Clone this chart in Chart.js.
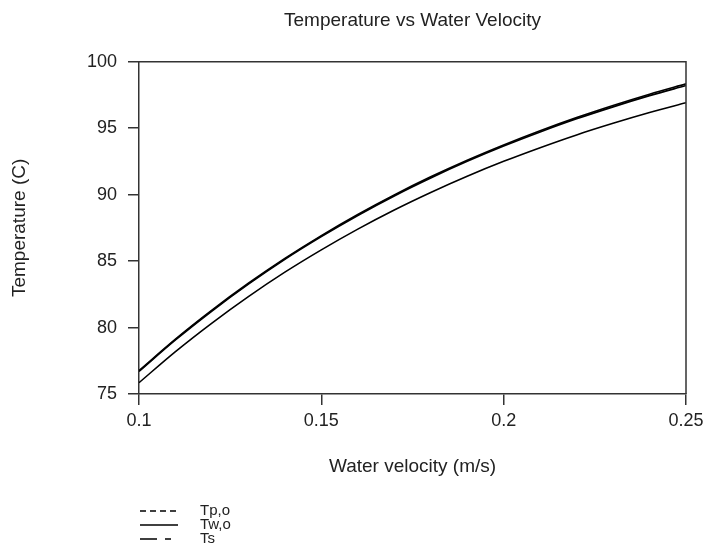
<!DOCTYPE html>
<html>
<head>
<meta charset="utf-8">
<script src="https://cdn.jsdelivr.net/npm/chart.js@4.4.1/dist/chart.umd.min.js"></script>
<style>
  html, body { margin: 0; padding: 0; background: #fff; }
  canvas { display: block; }
</style>
</head>
<body>
<canvas id="tempChart" width="704" height="559"></canvas>
<script>
// values
const velocity = [0.10, 0.11, 0.12, 0.13, 0.14, 0.15, 0.16, 0.17, 0.18, 0.19, 0.20, 0.21, 0.22, 0.23, 0.24, 0.25];
const tpo = [76.70, 79.07, 81.25, 83.27, 85.14, 86.85, 88.44, 89.91, 91.26, 92.51, 93.66, 94.72, 95.71, 96.61, 97.45, 98.22];
const two = [75.85, 78.19, 80.34, 82.33, 84.17, 85.85, 87.41, 88.85, 90.17, 91.39, 92.51, 93.54, 94.50, 95.37, 96.18, 96.92];
const ts  = [76.76, 79.13, 81.31, 83.33, 85.20, 86.92, 88.51, 89.98, 91.34, 92.59, 93.74, 94.81, 95.80, 96.71, 97.56, 98.34];

const seriesNames = ["Tp,o", "Tw,o", "Ts"];
const legendDash = [[6, 4], [], [17, 8, 6, 8]];

const xTicks = [0.1, 0.15, 0.2, 0.25];
const yTicks = [75, 80, 85, 90, 95, 100];

const FONT = "'Liberation Sans', Arial, sans-serif";
const ink = "#222";

const toPoints = ys => velocity.map((v, i) => ({ x: v, y: ys[i] }));

// frame on top/right and the small legend under the axis
const extras = {
  id: "extras",
  afterDatasetsDraw(chart) {
    const { ctx, chartArea: a } = chart;
    ctx.save();
    ctx.strokeStyle = "#333";
    ctx.lineWidth = 1.5;
    ctx.beginPath();
    ctx.moveTo(a.left, a.top);
    ctx.lineTo(a.right, a.top);
    ctx.lineTo(a.right, a.bottom);
    ctx.stroke();
    ctx.restore();
  },
  afterDraw(chart) {
    const ctx = chart.ctx;
    const rows = [511, 525, 539];
    ctx.save();
    ctx.font = "15px " + FONT;
    ctx.textBaseline = "middle";
    ctx.fillStyle = ink;
    seriesNames.forEach((name, i) => {
      ctx.strokeStyle = "#000";
      ctx.lineWidth = 1.3;
      ctx.setLineDash(legendDash[i]);
      ctx.beginPath();
      ctx.moveTo(140, rows[i]);
      ctx.lineTo(178, rows[i]);
      ctx.stroke();
      ctx.setLineDash([]);
      ctx.fillText(name, 200, rows[i]);
    });
    ctx.restore();
  }
};

const ds = (label, data, width) => ({
  label,
  data: toPoints(data),
  borderColor: "#000",
  borderWidth: width,
  pointRadius: 0,
  fill: false,
  cubicInterpolationMode: "monotone"
});

new Chart(document.getElementById("tempChart"), {
  type: "line",
  data: {
    datasets: [
      ds("Tp,o", tpo, 1.7),
      ds("Tw,o", two, 1.6),
      ds("Ts", ts, 1.7)
    ]
  },
  options: {
    responsive: false,
    animation: false,
    devicePixelRatio: 1,
    layout: { padding: { left: 0, right: 18, top: 0, bottom: 75 } },
    plugins: {
      legend: { display: false },
      tooltip: { enabled: false },
      title: {
        display: true,
        fullSize: false,
        text: "Temperature vs Water Velocity",
        color: ink,
        font: { family: FONT, size: 19, weight: "normal" },
        padding: { top: 9, bottom: 30 }
      }
    },
    scales: {
      x: {
        type: "linear",
        min: 0.1,
        max: 0.25,
        afterBuildTicks: s => { s.ticks = xTicks.map(v => ({ value: v })); },
        afterFit: s => { s.height = 90; s.paddingLeft = 0; s.paddingRight = 0; },
        ticks: {
          color: ink,
          font: { family: FONT, size: 18 },
          padding: 5,
          maxRotation: 0,
          callback: v => String(v)
        },
        grid: { display: true, drawOnChartArea: false, drawTicks: true, tickLength: 11, color: "#333", lineWidth: 1.5 },
        border: { display: true, color: "#333", width: 1.5 },
        title: {
          display: true,
          text: "Water velocity (m/s)",
          color: ink,
          font: { family: FONT, size: 19 },
          padding: { top: 0, bottom: 6 }
        }
      },
      y: {
        min: 75,
        max: 100,
        afterBuildTicks: s => { s.ticks = yTicks.map(v => ({ value: v })); },
        afterFit: s => { s.width = 139; s.paddingTop = 0; s.paddingBottom = 0; },
        ticks: {
          color: ink,
          font: { family: FONT, size: 18 },
          padding: 11,
          callback: v => String(v)
        },
        grid: { display: true, drawOnChartArea: false, drawTicks: true, tickLength: 11, color: "#333", lineWidth: 1.5 },
        border: { display: true, color: "#333", width: 1.5 },
        title: {
          display: true,
          text: "Temperature (C)",
          color: ink,
          font: { family: FONT, size: 19 },
          padding: { top: 8, bottom: 0 }
        }
      }
    }
  },
  plugins: [extras]
});
</script>
</body>
</html>
